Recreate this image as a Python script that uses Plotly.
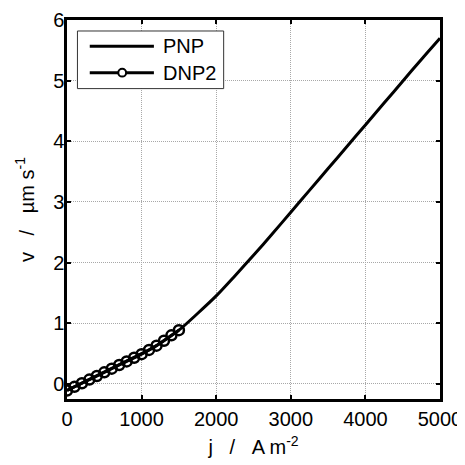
import plotly.graph_objects as go

# PNP curve
pnp_j = [0, 250, 500, 750, 1000, 1250, 1500, 1750, 2000, 2250, 2500, 2750,
         3000, 3250, 3500, 3750, 4000, 4250, 4500, 4750, 5000]
pnp_v = [-0.11, 0.04, 0.19, 0.34, 0.49, 0.67, 0.885, 1.16, 1.45, 1.78, 2.12,
         2.47, 2.83, 3.19, 3.55, 3.91, 4.27, 4.63, 4.99, 5.35, 5.70]

# DNP2 points
dnp_j = [0, 100, 200, 300, 400, 500, 600, 700, 800, 900, 1000, 1100, 1200,
         1300, 1400, 1500]
dnp_v = [-0.11, -0.05, 0.01, 0.07, 0.13, 0.19, 0.25, 0.31, 0.37, 0.43, 0.49,
         0.56, 0.63, 0.71, 0.80, 0.885]

series_names = ["PNP", "DNP2"]
x_ticks = [0, 1000, 2000, 3000, 4000, 5000]
y_ticks = [0, 1, 2, 3, 4, 5, 6]

FONT = "Liberation Sans, Arial, sans-serif"
FS = 20
NB = "\u00a0"

fig = go.Figure()
fig.add_trace(go.Scatter(x=pnp_j, y=pnp_v, mode="lines", name=series_names[0],
                         line=dict(color="black", width=3, shape="spline", smoothing=0.8),
                         showlegend=False))
fig.add_trace(go.Scatter(x=dnp_j, y=dnp_v, mode="lines+markers", name=series_names[1],
                         line=dict(color="black", width=3),
                         marker=dict(symbol="circle-open", size=10, color="black",
                                     line=dict(width=2.5)),
                         showlegend=False))

axis_common = dict(
    showline=True, linecolor="black", linewidth=2.5, mirror="ticks",
    ticks="inside", ticklen=4, tickwidth=2, tickcolor="black",
    showgrid=True, gridcolor="#a8a8a8", griddash="1px,1px", gridwidth=1,
    zeroline=False, automargin=False,
    tickfont=dict(family=FONT, size=FS, color="black"),
)

fig.update_xaxes(range=[0, 5000], tickvals=x_ticks,
                 title=dict(text=f"j{NB*3}/{NB*3}A m<sup>-2</sup>",
                            font=dict(family=FONT, size=FS, color="black"),
                            standoff=12),
                 **axis_common)
fig.update_yaxes(range=[-0.25, 6], tickvals=y_ticks, ticklabelstandoff=-4,
                 title=dict(text=f"v{NB*3}/{NB*3}µm s<sup>-1</sup>",
                            font=dict(family=FONT, size=FS, color="black"),
                            standoff=14),
                 **axis_common)

# custom legend (box, line samples, marker, labels) in paper coordinates
lx0, lx1 = 0.028, 0.420
ly0, ly1 = 0.819, 0.971
shapes = [
    dict(type="rect", xref="paper", yref="paper", x0=lx0, x1=lx1, y0=ly0, y1=ly1,
         line=dict(color="#333333", width=1), fillcolor="white", layer="above"),
    dict(type="line", xref="paper", yref="paper", x0=0.061, x1=0.233, y0=0.931, y1=0.931,
         line=dict(color="black", width=3), layer="above"),
    dict(type="line", xref="paper", yref="paper", x0=0.061, x1=0.233, y0=0.861, y1=0.861,
         line=dict(color="black", width=3), layer="above"),
    dict(type="circle", xref="paper", yref="paper", x0=0.148 - 0.0105, x1=0.148 + 0.0105,
         y0=0.861 - 0.0103, y1=0.861 + 0.0103,
         line=dict(color="black", width=2), fillcolor="white", layer="above"),
]
annotations = [
    dict(text=series_names[0], xref="paper", yref="paper", x=0.252, y=0.931,
         xanchor="left", yanchor="middle", showarrow=False,
         font=dict(family=FONT, size=FS, color="black")),
    dict(text=series_names[1], xref="paper", yref="paper", x=0.252, y=0.861,
         xanchor="left", yanchor="middle", showarrow=False,
         font=dict(family=FONT, size=FS, color="black")),
]

# page body adds an 8px offset, so the figure is 457px and margins compensate
fig.update_layout(
    width=457, height=457,
    margin=dict(l=59, r=25, t=12, b=66),
    paper_bgcolor="white", plot_bgcolor="white",
    font=dict(family=FONT, size=FS, color="black"),
    showlegend=False,
    shapes=shapes, annotations=annotations,
)

fig.write_html("out.html")
